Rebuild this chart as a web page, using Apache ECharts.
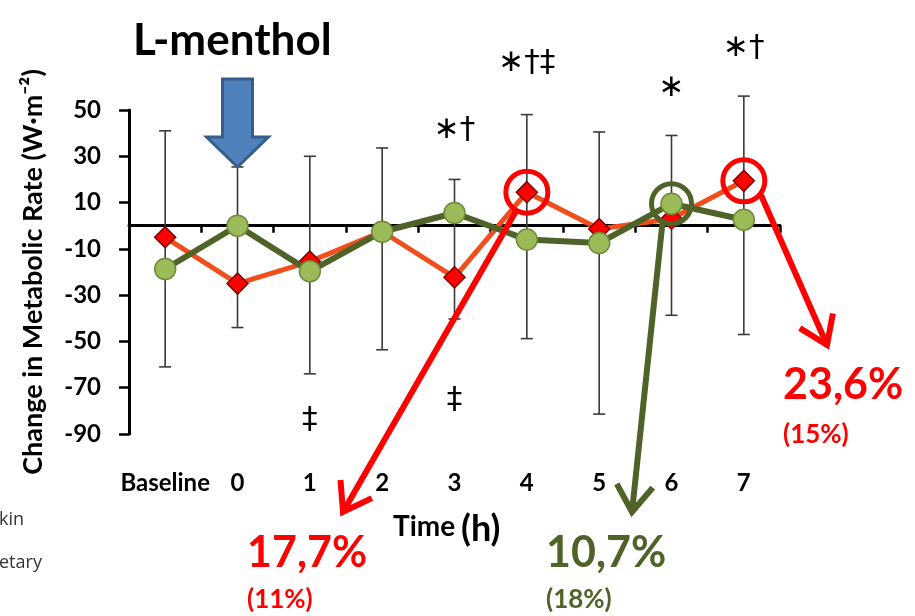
<!DOCTYPE html>
<html><head><meta charset="utf-8">
<script src="https://cdn.jsdelivr.net/npm/echarts@6/dist/echarts.min.js"></script>
<style>html,body{margin:0;padding:0;background:#fff}#c{width:915px;height:616px}</style>
</head><body><div id="c"></div>
<script>
// ---- data ----
const categories = ['Baseline', '0', '1', '2', '3', '4', '5', '6', '7'];
const redValues = [-5, -25, -15.5, -2.5, -22.3, 14.5, -1.4, 3, 19.4];
const greenValues = [-18.7, 0, -19.7, -2.6, 5.5, -6, -7.5, 9.5, 2.6];
const errHigh = [41, 25.4, 30, 33.6, 20, 48, 40.5, 39, 56];
const errLow = [-61, -44, -64, -53.6, -40.3, -48.8, -81.4, -38.7, -47];
const yTicks = [-90, -70, -50, -30, -10, 10, 30, 50];
const annotCats = ['3', '4', '6', '7', '1', '3'];
const annotVals = [41.5, 70.4, 59.6, 76.9, -83.8, -75.2];
const annotTexts = ['∗†', '∗†‡', '∗', '∗†', '‡', '‡'];
const hlSeries = ['red', 'green', 'red'];
const hlCats = ['4', '6', '7'];
const hlMain = ['17,7%', '10,7%', '23,6%'];
const hlSub = ['(11%)', '(18%)', '(15%)'];

const FONT = 'Lato, "Open Sans", sans-serif';
const RED = '#ff0000', GREEN = '#4f6228';

const chart = echarts.init(document.getElementById('c'), null, {renderer: 'canvas'});
const option = {
  animation: false,
  backgroundColor: '#fff',
  grid: {left: 129, top: 110, width: 651, height: 324},
  xAxis: [
    {type: 'category', data: categories, boundaryGap: true,
     axisLine: {onZero: true, lineStyle: {color: '#000', width: 3}},
     axisTick: {show: true, length: 7, interval: 0, lineStyle: {color: '#000', width: 2.5}},
     axisLabel: {show: false}, splitLine: {show: false}},
    {type: 'category', data: categories, position: 'bottom', boundaryGap: true,
     axisLine: {show: false}, axisTick: {show: false}, splitLine: {show: false},
     axisLabel: {interval: 0, margin: 37, fontSize: 24, fontWeight: 'bold', color: '#000', fontFamily: FONT}}
  ],
  yAxis: {
    type: 'value', min: -90, max: 50,
    axisLine: {show: true, onZero: false, lineStyle: {color: '#000', width: 3}},
    axisTick: {show: true, length: 10, customValues: yTicks, lineStyle: {color: '#000', width: 2.5}},
    axisLabel: {customValues: yTicks, margin: 28, fontSize: 24, fontWeight: 'bold', color: '#000', fontFamily: FONT},
    splitLine: {show: false},
    name: 'Change in Metabolic Rate (W·m⁻²)', nameLocation: 'middle', nameGap: 82,
    nameTextStyle: {fontSize: 27, fontWeight: 'bold', color: '#000', fontFamily: FONT}
  },
  series: [
    {type: 'custom', xAxisIndex: 0, yAxisIndex: 0, z: 1,
     encode: {x: 0, y: [1, 2]},
     data: categories.map((c, i) => [i, errHigh[i], errLow[i]]),
     renderItem: function (params, api) {
       const hi = api.coord([api.value(0), api.value(1)]);
       const lo = api.coord([api.value(0), api.value(2)]);
       const w = 6;
       const st = {stroke: '#3a3a3a', lineWidth: 1.6};
       return {type: 'group', children: [
         {type: 'line', shape: {x1: hi[0], y1: hi[1], x2: lo[0], y2: lo[1]}, style: st},
         {type: 'line', shape: {x1: hi[0] - w, y1: hi[1], x2: hi[0] + w, y2: hi[1]}, style: st},
         {type: 'line', shape: {x1: lo[0] - w, y1: lo[1], x2: lo[0] + w, y2: lo[1]}, style: st}
       ]};
     }},
    {type: 'line', name: 'red', data: redValues, xAxisIndex: 0, z: 3,
     symbol: 'diamond', symbolSize: 21, showAllSymbol: true,
     lineStyle: {color: '#f24e1c', width: 5},
     itemStyle: {color: '#ff0000', borderColor: '#7a0000', borderWidth: 1.5}},
    {type: 'line', name: 'green', data: greenValues, xAxisIndex: 0, z: 4,
     symbol: 'circle', symbolSize: 21, showAllSymbol: true,
     lineStyle: {color: GREEN, width: 6},
     itemStyle: {color: '#9bbb59', borderColor: '#6f8a3a', borderWidth: 1.5}}
  ]
};
chart.setOption(option);

// ---- overlays positioned from data ----
const px = (cat, val) => chart.convertToPixel({xAxisIndex: 0, yAxisIndex: 0}, [categories.indexOf(cat), val]);
const g = [];
// L-menthol label and arrow
const c0 = px('0', 0);
g.push({type: 'text', left: 133, top: 19, z: 10,
  style: {text: 'L-menthol', font: 'bold 44px ' + FONT, fill: '#000'}});
const ax = c0[0];
g.push({type: 'polygon', z: 10, shape: {points: [
  [ax - 15, 79], [ax + 15, 79], [ax + 15, 137], [ax + 31, 137], [ax, 167], [ax - 31, 137], [ax - 15, 137]]},
  style: {fill: '#4f81bd', stroke: '#385d8a', lineWidth: 3, lineJoin: 'miter'}});

// significance annotations
annotCats.forEach((c, i) => {
  const p = px(c, annotVals[i]);
  g.push({type: 'text', x: p[0], y: p[1], z: 10,
    style: {text: annotTexts[i], font: '31px "DejaVu Sans", sans-serif', fill: '#000',
      textAlign: 'center', textVerticalAlign: 'middle'}});
});

// highlight circles + arrows
const tips = [[343, 512], [632, 512], [827, 345]];
const startAng = [null, 115, 40];
const radii = [21, 20, 21];
hlCats.forEach((c, i) => {
  const vals = hlSeries[i] === 'red' ? redValues : greenValues;
  const col = hlSeries[i] === 'red' ? RED : GREEN;
  const p = px(c, vals[categories.indexOf(c)]);
  const r = radii[i];
  g.push({type: 'circle', z: 12, shape: {cx: p[0], cy: p[1], r: r},
    style: {fill: 'none', stroke: col, lineWidth: 5}});
  const t = tips[i];
  let a;
  if (startAng[i] === null) a = Math.atan2(t[1] - p[1], t[0] - p[0]);
  else a = startAng[i] * Math.PI / 180;
  const s = [p[0] + (r + 1.5) * Math.cos(a), p[1] + (r + 1.5) * Math.sin(a)];
  g.push({type: 'line', z: 12, shape: {x1: s[0], y1: s[1], x2: t[0], y2: t[1]},
    style: {stroke: col, lineWidth: 6, lineCap: 'butt'}});
  const d = Math.atan2(s[1] - t[1], s[0] - t[0]);
  const L = 32, spread = 0.6;
  g.push({type: 'polyline', z: 12, shape: {points: [
    [t[0] + L * Math.cos(d + spread), t[1] + L * Math.sin(d + spread)], t,
    [t[0] + L * Math.cos(d - spread), t[1] + L * Math.sin(d - spread)]]},
    style: {stroke: col, lineWidth: 6, fill: 'none', lineJoin: 'miter', lineCap: 'butt'}});
});

// percentage labels
const mainPos = [[247, 553], [546, 553], [783, 385]];
const subPos = [[247, 600], [546, 600], [783, 435]];
hlMain.forEach((t, i) => {
  const col = hlSeries[i] === 'red' ? RED : GREEN;
  g.push({type: 'text', x: mainPos[i][0], y: mainPos[i][1], z: 12,
    style: {text: t, font: 'bold 43px ' + FONT, fill: col, textVerticalAlign: 'middle'}});
  g.push({type: 'text', x: subPos[i][0], y: subPos[i][1], z: 12,
    style: {text: hlSub[i], font: 'bold 26px ' + FONT, fill: col, textVerticalAlign: 'middle'}});
});

// x axis name
g.push({type: 'text', x: 393, y: 527, z: 10,
  style: {text: 'Time', font: 'bold 28px ' + FONT, fill: '#000', textVerticalAlign: 'middle'}});
g.push({type: 'text', x: 461, y: 529, z: 10,
  style: {text: '(h)', font: 'bold 36px ' + FONT, fill: '#000', textVerticalAlign: 'middle'}});

// cut-off legend fragments
g.push({type: 'text', x: -1, y: 520, z: 10,
  style: {text: 'kin', font: '18px "Open Sans", sans-serif', fill: '#333', textVerticalAlign: 'middle'}});
g.push({type: 'text', x: -1, y: 563, z: 10,
  style: {text: 'etary', font: '18px "Open Sans", sans-serif', fill: '#333', textVerticalAlign: 'middle'}});

chart.setOption({graphic: {elements: g}});
</script>
</body></html>
